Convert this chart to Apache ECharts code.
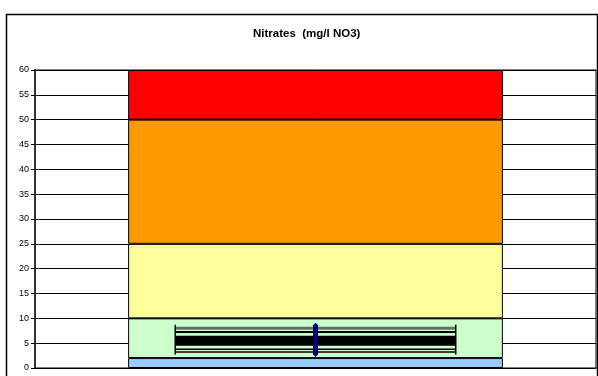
<!DOCTYPE html>
<html>
<head>
<meta charset="utf-8">
<script src="https://cdn.jsdelivr.net/npm/echarts@6/dist/echarts.min.js"></script>
<style>
  html, body { margin: 0; padding: 0; background: #fff; }
  #chart { width: 598px; height: 376px; }
</style>
</head>
<body>
<div id="chart"></div>
<script>
// bandes de qualité (empilées)
var bandNames = ['Très bon', 'Bon', 'Moyen', 'Médiocre', 'Mauvais'];
var bandValues = [2, 8, 15, 25, 10];
var bandColors = ['#99CCFF', '#CCFFCC', '#FFFF99', '#FF9900', '#FF0000'];

// plage des mesures (lignes horizontales)
var rangeLevels = [8.0, 7.25, 5.5, 3.8, 3.2];
var rangeFrom = 0.25;
var rangeTo = 0.75;
var rangeMin = 2.7;
var rangeMax = 8.7;

// valeur moyenne (marqueur bleu)
var meanPos = 0.5;
var meanLow = 2.8;
var meanHigh = 8.5;

var yTicks = { min: 0, max: 60, interval: 5 };

var myChart = echarts.init(document.getElementById('chart'));

var series = [];
bandValues.forEach(function (v, i) {
  series.push({
    name: bandNames[i],
    type: 'bar',
    stack: 'bands',
    barWidth: '66.8%',
    data: [v],
    itemStyle: { color: bandColors[i], borderColor: '#000', borderWidth: 1 },
    silent: true
  });
});

var levelStyles = [
  { color: '#5f735f', width: 3 },
  { color: '#000', width: 2 },
  { color: '#000', width: 10 },
  { color: '#000', width: 1.5 },
  { color: '#000', width: 1.5 }
];
rangeLevels.forEach(function (lv, i) {
  series.push({
    type: 'line',
    xAxisIndex: 1,
    data: [[rangeFrom, lv], [rangeTo, lv]],
    symbol: 'none',
    lineStyle: levelStyles[i],
    silent: true
  });
});

// traits verticaux aux extrémités
[rangeFrom, rangeTo].forEach(function (x) {
  series.push({
    type: 'line',
    xAxisIndex: 1,
    data: [[x, rangeMin], [x, rangeMax]],
    symbol: 'none',
    lineStyle: { color: '#000', width: 1.5 },
    silent: true
  });
});

series.push({
  type: 'line',
  xAxisIndex: 1,
  data: [[meanPos, meanLow], [meanPos, meanHigh]],
  symbol: 'diamond',
  symbolSize: 6,
  itemStyle: { color: '#000080' },
  lineStyle: { color: '#000080', width: 5 },
  silent: true,
  z: 5
});

var option = {
  animation: false,
  backgroundColor: '#fff',
  title: {
    text: 'Nitrates  (mg/l NO3)',
    left: 248,
    top: 23,
    textStyle: { fontFamily: 'Liberation Sans, Arial', fontSize: 11.5, fontWeight: 'bold', color: '#000' }
  },
  graphic: [{
    type: 'rect',
    shape: { x: 6.5, y: 14.5, width: 591, height: 380 },
    style: { fill: null, stroke: '#000', lineWidth: 1.5 },
    silent: true
  }],
  grid: { left: 35, right: 2, top: 70, bottom: 8, show: true, borderColor: '#000', borderWidth: 1 },
  xAxis: [{
    type: 'category',
    data: [''],
    axisLine: { show: true, lineStyle: { color: '#000', width: 1 } },
    axisTick: { show: false },
    axisLabel: { show: false }
  }, {
    type: 'value',
    min: 0,
    max: 1,
    show: false
  }],
  yAxis: {
    type: 'value',
    min: yTicks.min,
    max: yTicks.max,
    interval: yTicks.interval,
    axisLine: { show: true, lineStyle: { color: '#333', width: 2 } },
    axisTick: { show: true, length: 4, lineStyle: { color: '#000' } },
    axisLabel: { fontFamily: 'Liberation Sans, Arial', fontSize: 9, color: '#000', margin: 6 },
    splitLine: { show: true, lineStyle: { color: '#000', width: 1 } }
  },
  series: series
};

myChart.setOption(option);
</script>
</body>
</html>
